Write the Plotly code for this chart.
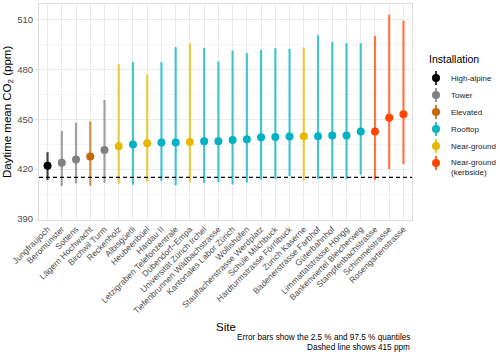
import plotly.graph_objects as go

sites = ["Jungfraujoch", "Beromünster", "Sottens", "Lägern Hochwacht", "Birchwil Turm",
         "Reckenholz", "Albisgüetli", "Heubeeribüel", "Hardau II", "Letzigraben Telefonzentrale",
         "Dübendorf−Empa", "Universität Zürich Irchel", "Tiefenbrunnen Wildbachstrasse",
         "Kantonales Labor Zürich", "Wollishofen", "Stauffacherstrasse Werdplatz",
         "Schule Milchbuck", "Hardturmstrasse Förrlibuck", "Zurich Kaserne",
         "Badenerstrasse Farbhof", "Güterbahnhof", "Limmattalstrasse Höngg",
         "Bankenviertel Bleicherweg", "Stampfenbachstrasse", "Schimmelstrasse",
         "Rosengartenstrasse"]
installation = ["High-alpine", "Tower", "Tower", "Elevated", "Tower",
                "Near-ground", "Rooftop", "Near-ground", "Rooftop", "Rooftop",
                "Near-ground", "Rooftop", "Rooftop", "Rooftop", "Rooftop", "Rooftop",
                "Rooftop", "Rooftop", "Near-ground", "Rooftop", "Rooftop", "Rooftop",
                "Rooftop", "Near-ground (kerbside)", "Near-ground (kerbside)",
                "Near-ground (kerbside)"]
co2_mean = [422.0, 423.8, 425.8, 427.6, 431.6, 433.8, 434.8, 435.6, 436.0, 436.0,
            436.4, 436.8, 436.8, 437.6, 438.0, 439.2, 439.4, 439.6, 439.8, 439.8,
            440.2, 440.2, 442.6, 442.6, 451.0, 453.0]
q025 = [413.4, 409.8, 411.4, 410.0, 411.8, 411.2, 410.6, 412.4, 413.0, 410.2,
        412.0, 411.6, 412.2, 410.8, 412.0, 413.8, 414.0, 415.8, 413.2, 414.2,
        414.0, 414.0, 416.6, 413.6, 420.0, 423.0]
q975 = [430.2, 443.0, 448.0, 448.8, 461.6, 483.4, 484.4, 477.0, 484.4, 493.4,
        495.8, 493.0, 484.8, 491.4, 489.8, 491.8, 492.8, 492.4, 493.2, 500.6,
        496.6, 495.8, 495.8, 500.2, 513.0, 509.4]
baseline = 415

groups = ["High-alpine", "Tower", "Elevated", "Rooftop", "Near-ground", "Near-ground (kerbside)"]
group_labels = ["High-alpine", "Tower", "Elevated", "Rooftop", "Near-ground", "Near-ground<br>(kerbside)"]
colors = {"High-alpine": (0, 0, 0), "Tower": (128, 128, 128), "Elevated": (192, 106, 0),
          "Rooftop": (0, 178, 196), "Near-ground": (232, 184, 0),
          "Near-ground (kerbside)": (255, 69, 0)}

fig = go.Figure()
for g in groups:
    idx = [i for i, v in enumerate(installation) if v == g]
    r, gg, b = colors[g]
    fig.add_trace(go.Scatter(
        x=[sites[i] for i in idx],
        y=[co2_mean[i] for i in idx],
        mode="markers", name=g, showlegend=False,
        marker=dict(color=f"rgb({r},{gg},{b})", size=8),
        error_y=dict(type="data", symmetric=False,
                     array=[q975[i] - co2_mean[i] for i in idx],
                     arrayminus=[co2_mean[i] - q025[i] for i in idx],
                     color=f"rgba({r},{gg},{b},0.72)", thickness=2.2, width=0),
    ))

# hand-drawn legend (point + range key) on a pixel-scaled helper axis
key_x, text_x = 436, 449
key_y = [78 + 17 * k for k in range(len(groups))]
fig.add_trace(go.Scatter(
    x=[key_x] * len(groups), y=key_y, xaxis="x2", yaxis="y2",
    mode="markers", showlegend=False, hoverinfo="skip",
    marker=dict(color=[f"rgb{colors[g]}" for g in groups], size=8),
))
for g, yk in zip(groups, key_y):
    fig.add_shape(type="line", xref="x2", yref="y2", x0=key_x, x1=key_x, y0=yk - 7, y1=yk + 7,
                  line=dict(color=f"rgba{colors[g] + (0.8,)}", width=2), layer="below")
annotations = [dict(text="Installation", xref="x2", yref="y2", x=427, y=59,
                    xanchor="left", yanchor="middle", showarrow=False, font=dict(size=10.5))]
for lab, yk in zip(group_labels, key_y):
    annotations.append(dict(text=lab, xref="x2", yref="y2", x=text_x,
                            y=yk + (4 if "<br>" in lab else 0),
                            xanchor="left", yanchor="middle", align="left", showarrow=False,
                            font=dict(size=8, color="#222222")))

fig.add_shape(type="line", xref="x domain", x0=0, x1=1, yref="y", y0=baseline, y1=baseline,
              line=dict(color="black", width=1.2, dash="4px,3px"))

annotations += [
    dict(text="Daytime mean CO<sub>2</sub> (ppm)", textangle=-90, xref="x domain",
         yref="y domain", x=-0.083, y=0.5, xanchor="center", yanchor="middle",
         showarrow=False, font=dict(size=11.5)),
    dict(text="Site", xref="x domain", yref="y domain", x=0.5, y=-0.495,
         xanchor="center", yanchor="middle", showarrow=False, font=dict(size=11.5)),
    dict(text="Error bars show the 2.5 % and 97.5 % quantiles",
         xref="x domain", yref="y domain", x=1.0, y=-0.546, xanchor="right", yanchor="middle",
         showarrow=False, font=dict(size=8.2)),
    dict(text="Dashed line shows 415 ppm",
         xref="x domain", yref="y domain", x=1.0, y=-0.588, xanchor="right", yanchor="middle",
         showarrow=False, font=dict(size=8.2)),
]

plot_w = 500 - 39
fig.update_layout(
    width=500, height=359,
    margin=dict(l=39, r=0, t=4, b=139),
    plot_bgcolor="white", paper_bgcolor="white",
    font=dict(family="Liberation Sans, Arial, sans-serif", color="black"),
    showlegend=False,
    xaxis=dict(domain=[0, 373 / plot_w], type="category", categoryorder="array",
               categoryarray=sites, range=[-0.6, len(sites) - 0.4], tickangle=-45,
               tickfont=dict(size=8.5, color="#4D4D4D"), automargin=False,
               showgrid=True, gridcolor="#EBEBEB", gridwidth=1,
               showline=True, linecolor="#DDDDDD", mirror=True, ticks=""),
    yaxis=dict(range=[389.4, 519.4], tickvals=[390, 420, 450, 480, 510],
               tickfont=dict(size=9.5, color="#4D4D4D"), automargin=False,
               showgrid=True, gridcolor="#EBEBEB", gridwidth=1,
               minor=dict(tickvals=[405, 435, 465, 495], showgrid=True,
                          gridcolor="#F5F5F5", gridwidth=1),
               showline=True, linecolor="#DDDDDD", mirror=True, zeroline=False,
               ticks="outside", ticklen=3, tickcolor="#DDDDDD"),
    xaxis2=dict(domain=[(417 - 39) / plot_w, 1], range=[417, 500], anchor="y2",
                visible=False, fixedrange=True),
    yaxis2=dict(domain=[0, 1], range=[220, 4], anchor="x2", visible=False, fixedrange=True),
    annotations=annotations,
)

# drop the browser's default 8px body margin so the figure sits at the window origin
fig.write_html("out.html", config={"displayModeBar": False},
               post_script="document.body.style.margin = '0';")
